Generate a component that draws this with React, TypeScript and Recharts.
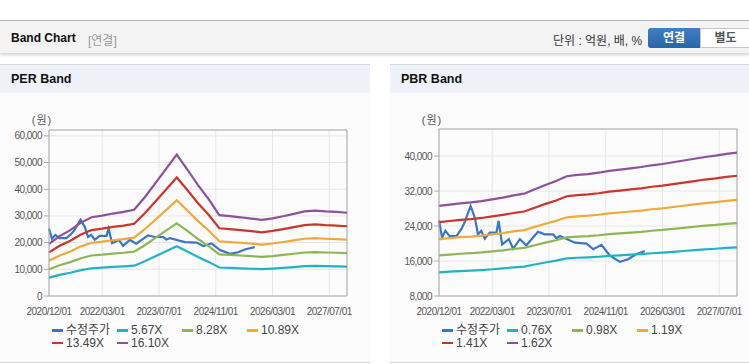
import { LineChart, Line, XAxis, YAxis, CartesianGrid, ReferenceLine } from "recharts";

// months counted from 2020/12
const bandMonths = [0, 3, 6, 9, 12, 15, 18, 21, 24, 27, 30, 33, 36, 39, 42, 45, 48, 51, 54, 57, 60, 63, 66, 69, 72, 75, 78, 81, 84];

// EPS (원) behind the PER band lines
const perEps = [1211, 1394, 1534, 1708, 1832, 1870, 1919, 1957, 2006, 2298, 2627, 2957, 3292, 2944, 2578, 2255, 1882, 1857, 1832, 1801, 1770, 1807, 1857, 1913, 1969, 1988, 1969, 1957, 1938];
const perMultiples = [5.67, 8.28, 10.89, 13.49, 16.1];

// BPS (원) behind the PBR band lines
const pbrBps = [17654, 17840, 18025, 18148, 18333, 18580, 18827, 19136, 19383, 20000, 20617, 21173, 21852, 22037, 22160, 22346, 22593, 22778, 22963, 23148, 23395, 23580, 23827, 24074, 24321, 24568, 24753, 25000, 25185];
const pbrMultiples = [0.76, 0.98, 1.19, 1.41, 1.62];

// 수정주가
const priceMonths = [0, 0.85, 1.8, 3, 4.9, 6.3, 7.2, 8.9, 10.1, 11, 11.9, 12.9, 14.3, 16.2, 16.8, 17.8, 19.7, 20.9, 22.8, 24.6, 27.9, 29.8, 32.2, 33.1, 34.1, 38.3, 41.6, 43.5, 45.8, 48.2, 51, 53.3, 55.4, 58];
const priceValues = [25300, 21400, 22900, 21700, 21700, 23300, 24800, 28600, 25900, 22100, 22900, 21100, 22500, 22500, 25200, 19800, 21000, 18800, 21000, 19600, 22700, 22100, 22100, 21200, 21700, 20200, 20000, 18700, 19700, 17200, 15800, 16400, 17500, 18300];

const xTicks = [0, 15, 31, 47, 63, 79];
const xTickLabels = ["2020/12/01", "2022/03/01", "2023/07/01", "2024/11/01", "2026/03/01", "2027/07/01"];
const perYTicks = [0, 10000, 20000, 30000, 40000, 50000, 60000];
const pbrYTicks = [8000, 16000, 24000, 32000, 40000];

const priceColor = "#3a76c6";
const bandColors = ["#1fb3c8", "#8db657", "#f2a83a", "#cf332b", "#904f9c"];
const FONT = "'Liberation Sans', Arial, 'Noto Sans CJK KR', sans-serif";

function buildRows(base: number[], multiples: number[]) {
  const rows: Record<string, number>[] = [];
  bandMonths.forEach((m, i) => {
    const row: Record<string, number> = { m };
    multiples.forEach((k, j) => (row["b" + j] = Math.round(base[i] * k)));
    rows.push(row);
  });
  priceMonths.forEach((m, i) => {
    const hit = rows.find((r) => r.m === m);
    if (hit) hit.price = priceValues[i];
    else rows.push({ m, price: priceValues[i] });
  });
  return rows.sort((a, b) => a.m - b.m);
}

function BandPanel({
  title,
  left,
  width,
  base,
  multiples,
  yDomain,
  yTicks,
  top,
}: {
  title: string;
  left: number;
  width: number;
  base: number[];
  multiples: number[];
  yDomain: [number, number];
  yTicks: number[];
  top: number;
}) {
  const rows = buildRows(base, multiples);
  const plotLeft = 49;
  const legend = [{ label: "수정주가", color: priceColor }].concat(
    multiples.map((k, j) => ({ label: k.toFixed(2) + "X", color: bandColors[j] }))
  );
  const tickStyle = { fontSize: 10, fill: "#555", fontFamily: FONT, letterSpacing: -0.5 };

  return (
    <div
      style={{
        position: "absolute",
        left,
        top: 64,
        width,
        height: 297,
        background: "#fcfcfc",
        borderTop: "1px solid #d6d6d6",
        borderBottom: "1px solid #d6d6d6",
      }}
    >
      <div
        style={{
          height: 28,
          background: "#eef2f8",
          fontFamily: FONT,
          fontWeight: "bold",
          fontSize: 12.5,
          lineHeight: "29px",
          paddingLeft: 11,
          color: "#111",
        }}
      >
        {title}
      </div>
      <div
        style={{
          position: "absolute",
          left: plotLeft - 19,
          top: 46,
          width: 24,
          textAlign: "center",
          fontFamily: FONT,
          fontSize: 11,
          color: "#555",
          letterSpacing: 1,
        }}
      >
        (원)
      </div>
      <div style={{ position: "absolute", left: 0, top: 36 }}>
        <LineChart width={width} height={215} data={rows} margin={{ top: top, right: width - plotLeft - 298, left: 0, bottom: 0 }}>
          <CartesianGrid stroke="#e7e7e7" />
          <XAxis
            type="number"
            dataKey="m"
            domain={[0, 84]}
            ticks={xTicks}
            tickFormatter={(v) => xTickLabels[xTicks.indexOf(v)]}
            tick={tickStyle}
            tickLine={false}
            tickMargin={6}
            axisLine={{ stroke: "#aaa" }}
            height={20}
            interval={0}
          />
          <YAxis
            type="number"
            domain={yDomain}
            ticks={yTicks}
            tickFormatter={(v) => v.toLocaleString("en-US")}
            tick={tickStyle}
            tickLine={{ stroke: "#aaa" }}
            tickSize={5}
            tickMargin={2}
            axisLine={{ stroke: "#aaa" }}
            width={plotLeft}
            allowDataOverflow
          />
          <ReferenceLine x={84} stroke="#aaa" />
          <ReferenceLine y={yDomain[1]} stroke="#aaa" />
          <Line
            type="linear"
            dataKey="price"
            stroke={priceColor}
            strokeWidth={2.2}
            dot={false}
            connectNulls
            isAnimationActive={false}
          />
          {multiples.map((_, j) => (
            <Line
              key={j}
              type="linear"
              dataKey={"b" + j}
              stroke={bandColors[j]}
              strokeWidth={2.2}
              dot={false}
              connectNulls
              isAnimationActive={false}
            />
          ))}
        </LineChart>
      </div>
      <div
        style={{
          position: "absolute",
          left: plotLeft + 3,
          top: 259,
          width: 270,
          display: "grid",
          gridTemplateColumns: "65px 65px 65px 65px",
          rowGap: 0,
          fontFamily: FONT,
          fontSize: 12,
          color: "#444",
          lineHeight: "12.6px",
        }}
      >
        {legend.map((it) => (
          <div key={it.label} style={{ display: "flex", alignItems: "center", whiteSpace: "nowrap" }}>
            <span style={{ display: "inline-block", width: 11, height: 2.5, background: it.color, marginRight: 3 }} />
            {it.label}
          </div>
        ))}
      </div>
    </div>
  );
}

export default function App() {
  return (
    <div
      style={{
        position: "absolute",
        left: 0,
        top: 0,
        width: 749,
        height: 364,
        background: "#fff",
        overflow: "hidden",
        fontFamily: FONT,
      }}
    >
      <div
        style={{
          position: "absolute",
          left: 0,
          top: 20,
          width: 749,
          height: 32,
          background: "#f3f3f3",
          borderTop: "1px solid #b3b3b3",
          boxShadow: "0 2px 3px rgba(0,0,0,0.18)",
        }}
      >
        <span style={{ position: "absolute", left: 11, top: 10, fontWeight: "bold", fontSize: 12, color: "#111" }}>
          Band Chart
        </span>
        <span style={{ position: "absolute", left: 88, top: 10, fontSize: 12, color: "#999" }}>[연결]</span>
        <span style={{ position: "absolute", left: 553, top: 10, fontSize: 12, color: "#333" }}>단위 : 억원, 배, %</span>
        <div
          style={{
            position: "absolute",
            left: 648,
            top: 7,
            width: 52,
            height: 20,
            background: "linear-gradient(#3f7fc4, #2a64a8)",
            borderRadius: "3px 0 0 3px",
            color: "#fff",
            fontWeight: "bold",
            fontSize: 12,
            textAlign: "center",
            lineHeight: "20px",
          }}
        >
          연결
        </div>
        <div
          style={{
            position: "absolute",
            left: 700,
            top: 7,
            width: 49,
            height: 18,
            background: "#fff",
            border: "1px solid #c8c8c8",
            color: "#555",
            fontWeight: "bold",
            fontSize: 12,
            textAlign: "center",
            lineHeight: "18px",
          }}
        >
          별도
        </div>
      </div>
      <BandPanel
        title="PER Band"
        left={0}
        width={370}
        base={perEps}
        multiples={perMultiples}
        yDomain={[0, 62200]}
        yTicks={perYTicks}
        top={29}
      />
      <BandPanel
        title="PBR Band"
        left={390}
        width={359}
        base={pbrBps}
        multiples={pbrMultiples}
        yDomain={[8000, 46200]}
        yTicks={pbrYTicks}
        top={28}
      />
    </div>
  );
}
